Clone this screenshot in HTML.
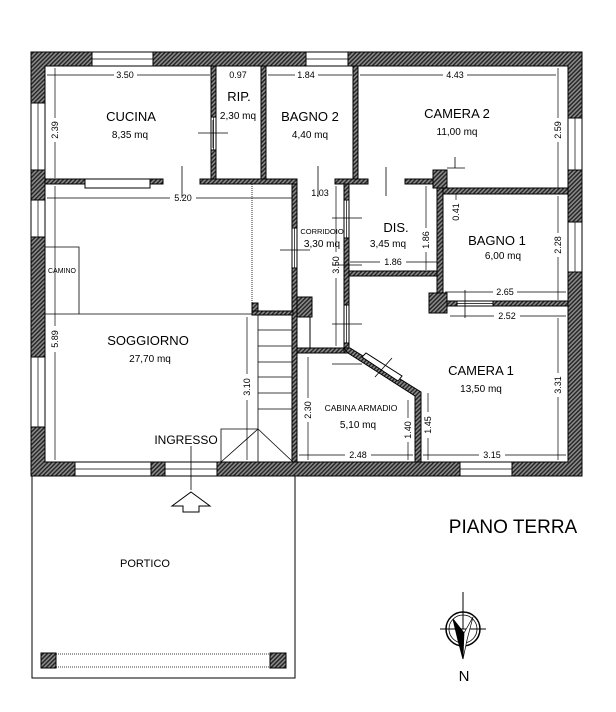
<!DOCTYPE html>
<html><head><meta charset="utf-8"><style>
html,body{margin:0;padding:0;background:#fff;}
svg{display:block;}
text{font-family:"Liberation Sans",Arial,sans-serif;fill:#000;}
</style></head><body>
<svg width="616" height="712" viewBox="0 0 616 712" xmlns="http://www.w3.org/2000/svg">
<defs>
<pattern id="h" width="3" height="3" patternUnits="userSpaceOnUse" patternTransform="rotate(45)">
<rect width="3" height="3" fill="#8a8a8a"/><rect width="1.4" height="3" fill="#222"/>
</pattern>
</defs>
<g stroke="#000" stroke-width="1">
<path d="M31,52 H582 V476 H31 Z M45,66 V462 H568 V66 Z" fill="url(#h)" fill-rule="evenodd"/>
<g fill="#fff">
<rect x="92" y="52" width="61" height="14"/><rect x="306" y="52" width="42" height="14"/>
<rect x="31" y="103" width="14" height="67"/><rect x="31" y="200" width="14" height="37"/><rect x="31" y="357" width="14" height="70"/>
<rect x="568" y="118" width="14" height="52"/><rect x="568" y="222" width="14" height="50"/>
<rect x="75" y="462" width="76" height="14"/><rect x="165" y="462" width="52" height="14"/><rect x="460" y="462" width="52" height="14"/>
</g>
<g stroke-width="0.7">
<line x1="92" y1="59" x2="153" y2="59"/><line x1="306" y1="59" x2="348" y2="59"/>
<line x1="38" y1="103" x2="38" y2="170"/><line x1="38" y1="200" x2="38" y2="237"/><line x1="38" y1="357" x2="38" y2="427"/>
<line x1="575" y1="118" x2="575" y2="170"/><line x1="575" y1="222" x2="575" y2="272"/>
<line x1="75" y1="469" x2="151" y2="469"/><line x1="165" y1="469" x2="217" y2="469"/><line x1="460" y1="469" x2="512" y2="469"/>
</g>
<g fill="url(#h)">
<rect x="211" y="66" width="5" height="51"/><rect x="211" y="150" width="5" height="29"/>
<rect x="261" y="66" width="5" height="113"/>
<rect x="353" y="66" width="5" height="113"/>
<rect x="45" y="179" width="40" height="5"/><rect x="150" y="179" width="13" height="5"/>
<rect x="200" y="179" width="97" height="5"/><rect x="335" y="179" width="33" height="5"/><rect x="405" y="179" width="32" height="5"/>
<rect x="433" y="170" width="14" height="18"/>
<rect x="443" y="188" width="125" height="6"/>
<rect x="437" y="188" width="6" height="113"/>
<rect x="437" y="301" width="20" height="5"/><rect x="493" y="301" width="75" height="5"/>
<rect x="429" y="293" width="18" height="20"/>
<rect x="344" y="184" width="5" height="16"/><rect x="344" y="238" width="5" height="67"/><rect x="344" y="343" width="5" height="10"/>
<rect x="349" y="271" width="88" height="5"/>
<rect x="292" y="184" width="5" height="44"/><rect x="292" y="268" width="5" height="194"/>
<rect x="297" y="297" width="15" height="20"/>
<rect x="297" y="348" width="47" height="5"/>
<polygon points="344,348 350,348 421,392 421,462 415,462 415,396 348,353"/>
<rect x="252" y="303" width="6" height="12"/><rect x="252" y="311" width="41" height="4"/>
</g>
<g fill="#fff">
<rect x="211" y="117" width="5" height="33"/>
<rect x="85" y="179" width="65" height="9"/>
<rect x="344" y="200" width="5" height="38"/><rect x="344" y="305" width="5" height="38"/>
<rect x="292" y="228" width="5" height="40"/>
<rect x="297" y="317" width="13" height="31"/>
<rect x="457" y="301" width="36" height="5"/>
<polygon points="362,357 366,353 402,376 398,381"/>
</g>
<g stroke-width="0.8" fill="none">
<line x1="45" y1="314" x2="252" y2="314"/>
<polyline points="45,247 79,247 79,314"/>
<line x1="252" y1="184" x2="252" y2="303" stroke-dasharray="1,1"/>
<line x1="258" y1="315" x2="258" y2="462"/>
<line x1="258" y1="330" x2="292" y2="330"/><line x1="258" y1="346" x2="292" y2="346"/>
<line x1="258" y1="362" x2="292" y2="362"/><line x1="258" y1="377" x2="292" y2="377"/>
<line x1="258" y1="393" x2="292" y2="393"/><line x1="258" y1="409" x2="292" y2="409"/>
<polyline points="221,462 221,429 258,429"/>
<line x1="258" y1="429" x2="221" y2="462"/><line x1="258" y1="429" x2="293" y2="462"/>
<line x1="198" y1="133" x2="228" y2="133"/><line x1="213" y1="120" x2="213" y2="148"/>
<line x1="182" y1="166" x2="182" y2="198"/>
<line x1="318" y1="166" x2="318" y2="197"/>
<line x1="386" y1="167" x2="386" y2="196"/>
<line x1="332" y1="218" x2="362" y2="218"/><line x1="332" y1="265" x2="362" y2="265"/>
<line x1="332" y1="324" x2="362" y2="324"/><line x1="332" y1="364" x2="362" y2="364"/>
<line x1="280" y1="250" x2="310" y2="250"/>
<line x1="455" y1="157" x2="455" y2="168"/><line x1="447" y1="168" x2="465" y2="168"/>
<line x1="465" y1="290" x2="465" y2="318"/>
<line x1="375" y1="377" x2="392" y2="358"/>
<line x1="191" y1="446" x2="191" y2="490"/>
</g>
<g stroke-width="0.7">
<line x1="47" y1="75" x2="114" y2="75"/><line x1="137" y1="75" x2="210" y2="75"/>
<line x1="268" y1="75" x2="295" y2="75"/><line x1="318" y1="75" x2="352" y2="75"/>
<line x1="360" y1="75" x2="443" y2="75"/><line x1="467" y1="75" x2="556" y2="75"/>
<line x1="55" y1="68" x2="55" y2="118"/><line x1="55" y1="142" x2="55" y2="178"/>
<line x1="558" y1="68" x2="558" y2="118"/><line x1="558" y1="142" x2="558" y2="188"/>
<line x1="47" y1="198" x2="170" y2="198"/><line x1="196" y1="198" x2="292" y2="198"/>
<line x1="426" y1="186" x2="426" y2="228"/><line x1="426" y1="252" x2="426" y2="270"/>
<line x1="350" y1="262" x2="380" y2="262"/><line x1="406" y1="262" x2="437" y2="262"/>
<line x1="456" y1="194" x2="456" y2="200"/>
<line x1="558" y1="196" x2="558" y2="233"/><line x1="558" y1="257" x2="558" y2="300"/>
<line x1="445" y1="292" x2="493" y2="292"/><line x1="517" y1="292" x2="566" y2="292"/>
<line x1="450" y1="316" x2="494" y2="316"/><line x1="520" y1="316" x2="566" y2="316"/>
<line x1="336" y1="186" x2="336" y2="252"/><line x1="336" y1="278" x2="336" y2="346"/>
<line x1="55" y1="186" x2="55" y2="326"/><line x1="55" y1="352" x2="55" y2="460"/>
<line x1="247" y1="317" x2="247" y2="374"/><line x1="247" y1="400" x2="247" y2="460"/>
<line x1="308" y1="357" x2="308" y2="398"/><line x1="308" y1="422" x2="308" y2="460"/>
<line x1="408" y1="400" x2="408" y2="418"/><line x1="408" y1="442" x2="408" y2="460"/>
<line x1="428" y1="393" x2="428" y2="412"/><line x1="428" y1="438" x2="428" y2="460"/>
<line x1="558" y1="318" x2="558" y2="373"/><line x1="558" y1="397" x2="558" y2="460"/>
<line x1="299" y1="455" x2="345" y2="455"/><line x1="371" y1="455" x2="413" y2="455"/>
<line x1="423" y1="455" x2="479" y2="455"/><line x1="505" y1="455" x2="566" y2="455"/>
<line x1="346.5" y1="200" x2="346.5" y2="238"/><line x1="346.5" y1="305" x2="346.5" y2="343"/>
<line x1="294.5" y1="228" x2="294.5" y2="268"/><line x1="213.5" y1="117" x2="213.5" y2="150"/>
<line x1="457" y1="303.5" x2="493" y2="303.5"/>
</g>
<rect x="32" y="476" width="263" height="202" fill="none"/>
<rect x="41" y="653" width="15" height="15" fill="url(#h)"/>
<rect x="270" y="653" width="16" height="15" fill="url(#h)"/>
<line x1="56" y1="654" x2="270" y2="654" stroke-width="0.7" stroke-dasharray="1,1"/>
<line x1="56" y1="667" x2="270" y2="667" stroke-width="0.7" stroke-dasharray="1,1"/>
<polygon points="191,492 210,506 199,506 199,512 183,512 183,506 172,506" fill="#fff"/>
<circle cx="463" cy="629" r="17" fill="none" stroke-width="1.5"/>
<circle cx="463" cy="629" r="14" fill="none" stroke-width="0.8"/>
<line x1="463" y1="592" x2="463" y2="629"/><line x1="440" y1="629" x2="486" y2="629"/>
<polygon points="453,619 464,633 463,659 458,640" fill="#000"/>
<polygon points="463,659 467,640 473,617 464,633" fill="#fff" stroke-width="0.7"/>
</g>
<g font-size="9" text-anchor="middle">
<text x="125" y="78">3.50</text><text x="238" y="78">0.97</text><text x="306" y="78">1.84</text><text x="455" y="78">4.43</text>
<text x="183" y="201">5.20</text><text x="320" y="196">1.03</text>
<text x="393" y="265">1.86</text><text x="505" y="295">2.65</text><text x="507" y="319">2.52</text>
<text x="358" y="458">2.48</text><text x="492" y="458">3.15</text>
<text transform="translate(58,130) rotate(-90)">2.39</text>
<text transform="translate(561,130) rotate(-90)">2.59</text>
<text transform="translate(429,240) rotate(-90)">1.86</text>
<text transform="translate(459,212) rotate(-90)">0.41</text>
<text transform="translate(561,245) rotate(-90)">2.28</text>
<text transform="translate(339,265) rotate(-90)">3.50</text>
<text transform="translate(58,339) rotate(-90)">5.89</text>
<text transform="translate(250,387) rotate(-90)">3.10</text>
<text transform="translate(311,410) rotate(-90)">2.30</text>
<text transform="translate(411,430) rotate(-90)">1.40</text>
<text transform="translate(431,425) rotate(-90)">1.45</text>
<text transform="translate(561,385) rotate(-90)">3.31</text>
</g>
<g text-anchor="middle">
<text x="131" y="121" font-size="13">CUCINA</text><text x="130" y="138" font-size="10">8,35 mq</text>
<text x="239" y="101" font-size="13">RIP.</text><text x="238" y="119" font-size="10">2,30 mq</text>
<text x="310" y="121" font-size="13">BAGNO 2</text><text x="310" y="138" font-size="10">4,40 mq</text>
<text x="457" y="118" font-size="13">CAMERA 2</text><text x="457" y="135" font-size="10">11,00 mq</text>
<text x="396" y="232" font-size="13">DIS.</text><text x="388" y="247" font-size="10">3,45 mq</text>
<text x="322" y="234" font-size="7.5">CORRIDOIO</text><text x="322" y="247" font-size="10">3,30 mq</text>
<text x="497" y="245" font-size="13">BAGNO 1</text><text x="503" y="259" font-size="10">6,00 mq</text>
<text x="62" y="273" font-size="7">CAMINO</text>
<text x="148" y="345" font-size="13">SOGGIORNO</text><text x="150" y="362" font-size="10">27,70 mq</text>
<text x="481" y="375" font-size="13">CAMERA 1</text><text x="481" y="392" font-size="10">13,50 mq</text>
<text x="361" y="411" font-size="8.5">CABINA ARMADIO</text><text x="358" y="428" font-size="10">5,10 mq</text>
<text x="186" y="444" font-size="12">INGRESSO</text>
<text x="145" y="567" font-size="11">PORTICO</text>
<text x="513" y="533" font-size="19">PIANO TERRA</text>
<text x="464" y="681" font-size="15">N</text>
</g>
</svg>
</body></html>
